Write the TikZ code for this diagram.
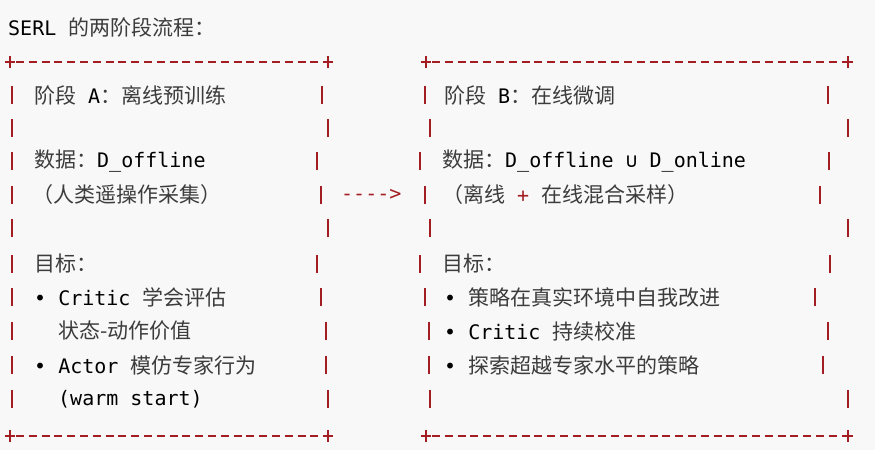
\documentclass[tikz,border=0pt]{standalone}
\usepackage{fontspec}
\setmainfont{DejaVu Sans Mono}
\newfontfamily\cjk{Noto Sans CJK SC}[Scale=1.05]
\definecolor{bred}{RGB}{163,30,35}
\definecolor{bg}{RGB}{248,248,248}
\definecolor{cg}{RGB}{60,60,60}
\begin{document}
\begin{tikzpicture}[x=1pt,y=-1pt,
  t/.style={anchor=west,inner sep=0pt,font=\fontsize{20}{21}\selectfont,text=black},
  r/.style={t,text=bred},
  bd/.style={draw=bred,line width=1.6pt,dash pattern=on 8pt off 4.8pt},
  pl/.style={draw=bred,line width=1.4pt}]
\fill[bg] (0,0) rectangle (875,450);
\newcommand\cj[1]{{\cjk\color{cg}#1}}
\newcommand\bu{\textbullet}
\newcommand\plus[2]{\draw[pl] (#1-5,#2)--(#1+5,#2) (#1,#2-6)--(#1,#2+6);}
\newcommand\pipe[2]{\draw[pl] (#1,#2-9)--(#1,#2+9);}
\node[t] (title) at (8,27) {SERL \cj{的两阶段流程：}};
% borders
\draw[bd] (16,62)--(322,62); \plus{10}{62}\plus{328}{62}
\draw[bd] (16,436)--(322,436); \plus{10}{436}\plus{328}{436}
\draw[bd] (432,62)--(842,62); \plus{426}{62}\plus{848}{62}
\draw[bd] (432,436)--(842,436); \plus{426}{436}\plus{848}{436}
\foreach \y/\a/\b/\c in {95/322/425/828, 128/328/430/848, 161/317/420/829, 195/321/425/820, 228/328/430/848, 264/317/420/830, 297/321/425/815, 331/326/429/828, 365/326/429/823, 399/328/430/848}
 {\pipe{12}{\y}\pipe{\a}{\y}\pipe{\b}{\y}\pipe{\c}{\y}}
\node[r] (arr) at (341,195) {{-}{-}{-}{-}>};
% left
\node[t] (a1) at (34,95) {\cj{阶段} A\cj{：}\cj{离线预训练}};
\node[t] (a2) at (34,161) {\cj{数据：}D\_offline};
\node[t] (a3) at (32,195) {\cj{（人类遥操作采集）}};
\node[t] (a4) at (34,264) {\cj{目标：}};
\node[t] (a5) at (34,297) {\bu{} Critic \cj{学会评估}};
\node[t] (a6) at (58,331) {\cj{状态-动作价值}};
\node[t] (a7) at (34,365) {\bu{} Actor \cj{模仿专家行为}};
\node[t] (a8) at (58,399) {(warm start)};
% right
\node[t] (b1) at (444,95) {\cj{阶段} B\cj{：}\cj{在线微调}};
\node[t] (b2) at (442,161) {\cj{数据：}D\_offline ∪ D\_online};
\node[t] (b3) at (442,195) {\cj{（离线} {\color{bred}+} \cj{在线混合采样）}};
\node[t] (b4) at (442,264) {\cj{目标：}};
\node[t] (b5) at (444,297) {\bu{} \cj{策略在真实环境中自我改进}};
\node[t] (b6) at (444,331) {\bu{} Critic \cj{持续校准}};
\node[t] (b7) at (444,365) {\bu{} \cj{探索超越专家水平的策略}};
\end{tikzpicture}
\end{document}
